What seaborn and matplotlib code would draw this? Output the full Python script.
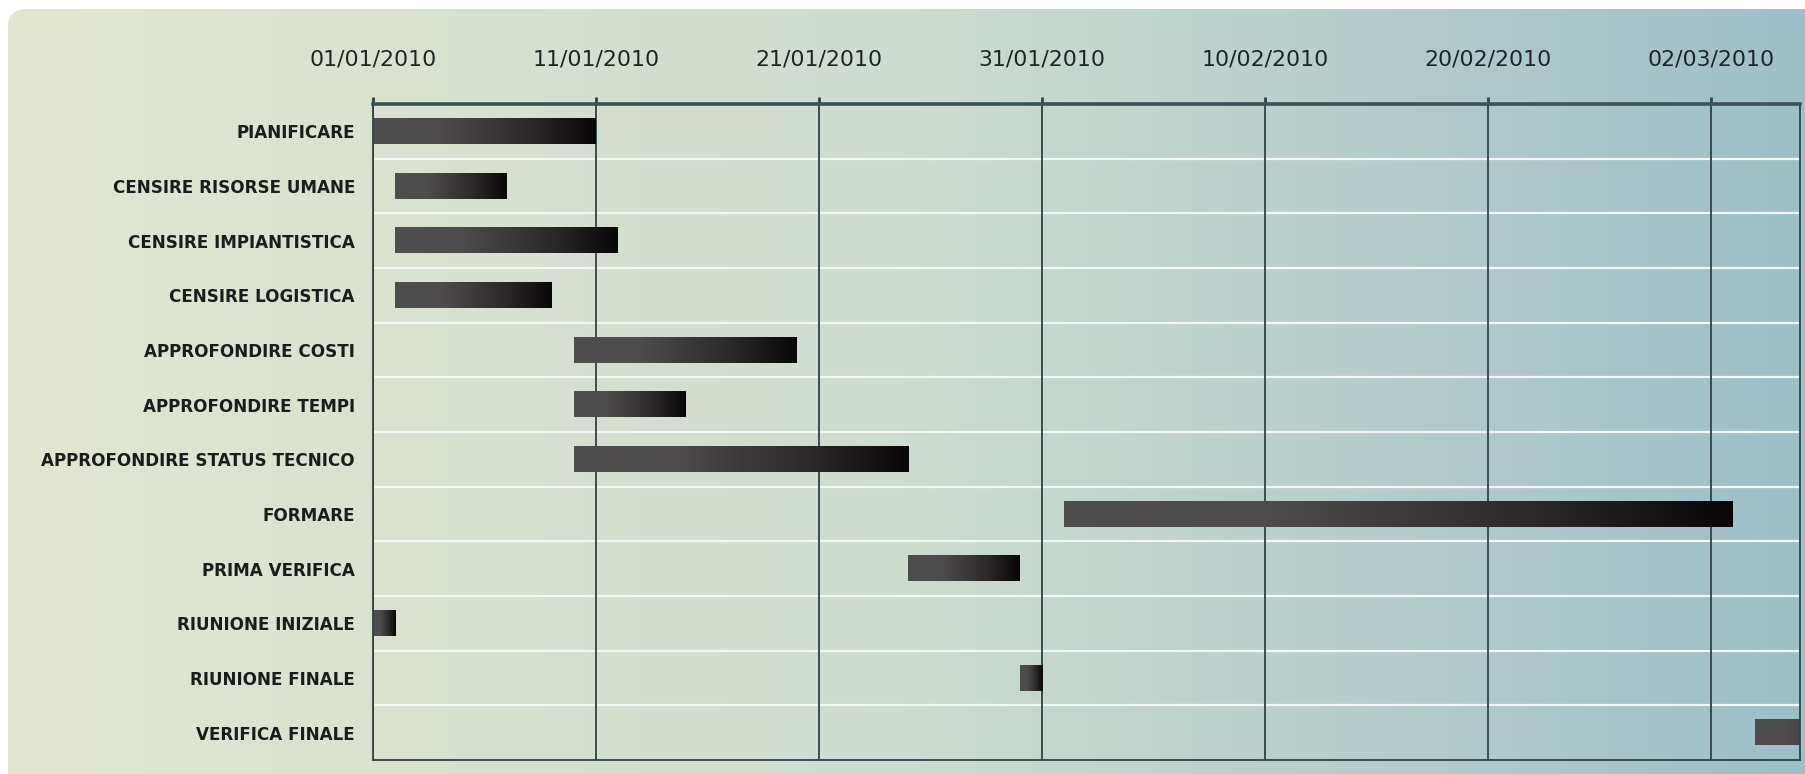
import numpy as np
import pandas as pd
import matplotlib
matplotlib.use('Agg')
import matplotlib.pyplot as plt
import matplotlib.dates as mdates
from matplotlib.colors import LinearSegmentedColormap
from matplotlib.patches import FancyBboxPatch
import seaborn as sns

# task list (top to bottom) with start / end dates
tasks = ['PIANIFICARE', 'CENSIRE RISORSE UMANE', 'CENSIRE IMPIANTISTICA',
         'CENSIRE LOGISTICA', 'APPROFONDIRE COSTI', 'APPROFONDIRE TEMPI',
         'APPROFONDIRE STATUS TECNICO', 'FORMARE', 'PRIMA VERIFICA',
         'RIUNIONE INIZIALE', 'RIUNIONE FINALE', 'VERIFICA FINALE']
starts = ['2010-01-01', '2010-01-02', '2010-01-02', '2010-01-02',
          '2010-01-10', '2010-01-10', '2010-01-10', '2010-02-01',
          '2010-01-25', '2010-01-01', '2010-01-30', '2010-03-04']
ends = ['2010-01-11', '2010-01-07', '2010-01-12', '2010-01-09',
        '2010-01-20', '2010-01-15', '2010-01-25', '2010-03-03',
        '2010-01-30', '2010-01-02', '2010-01-31', '2010-03-09']
tick_dates = ['2010-01-01', '2010-01-11', '2010-01-21', '2010-01-31',
              '2010-02-10', '2010-02-20', '2010-03-02']
x_start, x_end = '2010-01-01', '2010-03-06'

df = pd.DataFrame({'task': tasks,
                   'start': mdates.date2num(pd.to_datetime(starts)),
                   'end': mdates.date2num(pd.to_datetime(ends))})

W, H = 1806, 774
fig = plt.figure(figsize=(W / 100, H / 100), dpi=100, facecolor='white')

# background panel with horizontal colour gradient and rounded corner
bg = fig.add_axes([0, 0, 1, 1], zorder=-5)
bg.set_xlim(0, W)
bg.set_ylim(H, 0)
bg.axis('off')
bg_cmap = LinearSegmentedColormap.from_list('bg', ['#e3e6d3', '#cfdcd0', '#9dc0c7'])
grad = np.linspace(0, 1, 512).reshape(1, -1)
im = bg.imshow(grad, cmap=bg_cmap, extent=(0, W, H, 0), aspect='auto')
panel = FancyBboxPatch((8, 9), W + 40, H + 40, boxstyle='round,pad=0,rounding_size=18',
                       transform=bg.transData, facecolor='none', edgecolor='none')
bg.add_patch(panel)
im.set_clip_path(panel)

ax = fig.add_axes([373 / W, 14 / H, (1800 - 373) / W, (760 - 104) / H])
ax.set_facecolor('none')

sns.barplot(data=df, x='end', y='task', orient='h', width=0.46, ax=ax,
            color='#555555', linewidth=0)

bar_cmap = LinearSegmentedColormap.from_list(
    'bar', [(0, '#4f4e4e'), (0.3, '#4d4b4b'), (0.7, '#2b2929'), (1, '#080606')])
for p, (s, e) in zip(ax.patches, zip(df['start'], df['end'])):
    p.set_x(s)
    p.set_width(e - s)
    p.set_facecolor('none')
    y0, h = p.get_y(), p.get_height()
    gim = ax.imshow(grad, cmap=bar_cmap, extent=(s, e, y0 + h, y0),
                    aspect='auto', zorder=3, interpolation='bilinear')
    gim.set_clip_path(ax.patch)

ax.set_xlim(mdates.date2num(pd.Timestamp(x_start)), mdates.date2num(pd.Timestamp(x_end)))
ax.set_ylim(len(tasks) - 0.5, -0.5)

# row separators
for i in range(len(tasks) - 1):
    ax.axhline(i + 0.5, color='#f2f8f6', lw=1.6, zorder=1)

# vertical date lines
ticks = mdates.date2num(pd.to_datetime(tick_dates))
for t in ticks:
    ax.axvline(t, color='#2e4347', lw=1.3, zorder=2)

ax.xaxis.tick_top()
ax.set_xticks(ticks)
ax.set_xticklabels(pd.to_datetime(tick_dates).strftime('%d/%m/%Y'),
                   fontsize=15.8, color='#1e2426', family=['DejaVu Sans'])
ax.tick_params(axis='x', length=5, width=2, color='#2e4347', pad=20, top=True, bottom=False)
ax.tick_params(axis='y', length=0, pad=13)
for lab in ax.get_yticklabels():
    lab.set_family(['DejaVu Sans'])
    lab.set_fontweight('bold')
    lab.set_fontsize(12.1)
    lab.set_color('#1a1d1d')
ax.set_xlabel('')
ax.set_ylabel('')

for side in ['left', 'right', 'bottom']:
    ax.spines[side].set_color('#2e4347')
    ax.spines[side].set_linewidth(1.3)
ax.spines['top'].set_color('#3b5256')
ax.spines['top'].set_linewidth(2.6)
for sp in ax.spines.values():
    sp.set_zorder(4)

fig.savefig('out.png', dpi=100, facecolor='white')
